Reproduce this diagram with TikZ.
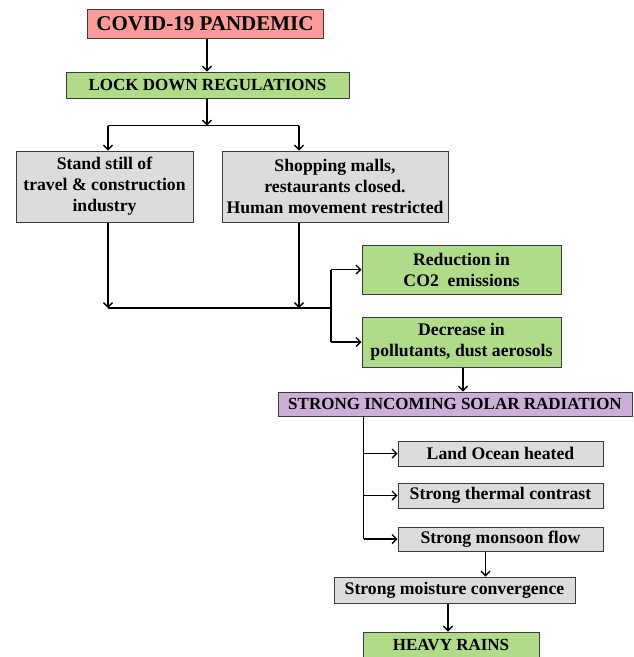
\documentclass[tikz,border=0pt]{standalone}
\usepackage{fontspec}
\setmainfont{Liberation Serif}
\usetikzlibrary{calc,arrows.meta}
\definecolor{pinkc}{RGB}{250,155,152}
\definecolor{greenc}{RGB}{176,220,138}
\definecolor{grayc}{RGB}{220,220,220}
\definecolor{purplec}{RGB}{204,175,216}
\definecolor{edgec}{RGB}{60,60,60}
\begin{document}
\begin{tikzpicture}[x=1pt,y=-1pt,
  box/.style={draw=edgec,line width=1pt,inner sep=0pt,align=center,font=\bfseries\fontsize{17.7}{21}\selectfont},
  capf/.style={font=\bfseries\fontsize{17}{21}\selectfont},
  arr/.style={-{Straight Barb[length=4.5pt,width=9pt,line width=1.4pt]},line width=1.4pt},
  ln/.style={line width=1.4pt}]
\useasboundingbox (0,0) rectangle (633,657);
\node[box,fill=pinkc,minimum width=236pt,minimum height=29pt,font=\bfseries\fontsize{21}{24}\selectfont] (covid) at (205,23.5) {COVID-19 PANDEMIC};
\node[box,capf,fill=greenc,minimum width=283pt,minimum height=26pt] (lock) at (207.5,85) {LOCK DOWN REGULATIONS};
\node[box,fill=grayc,minimum width=177pt,minimum height=71pt] (stand) at (104.5,186.5) {Stand still of\\travel \& construction\\industry};
\node[box,fill=grayc,minimum width=226pt,minimum height=71pt] (shop) at (335,186.5) {Shopping malls,\\restaurants closed.\\Human movement restricted};
\node[box,fill=greenc,minimum width=199pt,minimum height=49pt] (red) at (461.5,269.5) {Reduction in\\CO2\ \ emissions};
\node[box,fill=greenc,minimum width=199pt,minimum height=50pt] (dec) at (461.5,342) {Decrease in\\pollutants, dust aerosols};
\node[box,capf,fill=purplec,minimum width=354pt,minimum height=24pt] (solar) at (455,404) {STRONG INCOMING SOLAR RADIATION};
\node[box,fill=grayc,minimum width=205pt,minimum height=25pt] (land) at (500.5,453.5) {Land Ocean heated};
\node[box,fill=grayc,minimum width=205pt,minimum height=25pt] (therm) at (500.5,495.5) {Strong thermal contrast};
\node[box,fill=grayc,minimum width=205pt,minimum height=24pt] (mons) at (500.5,539) {Strong monsoon flow};
\node[box,fill=grayc,minimum width=241pt,minimum height=26pt] (moist) at (454.5,590) {Strong moisture convergence};
\node[box,capf,fill=greenc,minimum width=176pt,minimum height=25pt] (heavy) at (451,644.5) {HEAVY RAINS};
% coordinates
\coordinate (s1) at (207,125.5);
\coordinate (s1l) at (108,125.5);
\coordinate (s1r) at (299,125.5);
\coordinate (j1) at (108,308);
\coordinate (j2) at (299,308);
\coordinate (j3) at (331,308);
\coordinate (b1) at (331,269.5);
\coordinate (b2) at (331,342);
\coordinate (v1) at (363.5,416);
\coordinate (v2) at (363.5,539);
\coordinate (xd) at (463,0);
\coordinate (xm) at (485.5,0);
\coordinate (xh) at (448,0);
% connectors
\draw[arr] (covid.south -| s1) -- (lock.north -| s1);
\draw[arr] (lock.south -| s1) -- (s1);
\draw[ln] (s1l) -- (s1r);
\draw[arr] (s1l) -- (stand.north -| s1l);
\draw[arr] (s1r) -- (shop.north -| s1r);
\draw[arr] (stand.south -| j1) -- (j1);
\draw[arr] (shop.south -| j2) -- (j2);
\draw[ln] (j1) -- (j3);
\draw[ln] (b1) -- (b2);
\draw[arr] (b1) -- (red.west);
\draw[arr] (b2) -- (dec.west);
\draw[arr] (dec.south -| xd) -- (solar.north -| xd);
\draw[ln] (v1) -- (v2);
\draw[arr] (v1 |- land.west) -- (land.west);
\draw[arr] (v1 |- therm.west) -- (therm.west);
\draw[arr] (v2) -- (mons.west);
\draw[arr] (mons.south -| xm) -- (moist.north -| xm);
\draw[arr] (moist.south -| xh) -- (heavy.north -| xh);
\end{tikzpicture}
\end{document}
